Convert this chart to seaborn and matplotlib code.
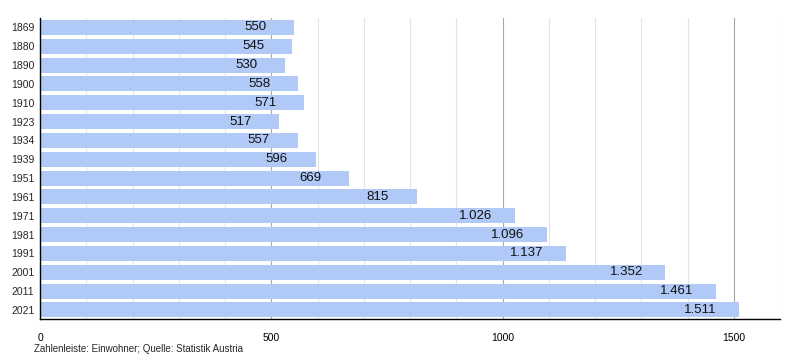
import matplotlib
matplotlib.use("Agg")
import matplotlib.pyplot as plt
from matplotlib.ticker import MultipleLocator
import seaborn as sns
import pandas as pd

# Einwohnerentwicklung
years = ["1869", "1880", "1890", "1900", "1910", "1923", "1934", "1939",
         "1951", "1961", "1971", "1981", "1991", "2001", "2011", "2021"]
population = [550, 545, 530, 558, 571, 517, 557, 596,
              669, 815, 1026, 1096, 1137, 1352, 1461, 1511]
value_labels = ["550", "545", "530", "558", "571", "517", "557", "596",
                "669", "815", "1.026", "1.096", "1.137", "1.352", "1.461", "1.511"]

df = pd.DataFrame({"Jahr": years, "Einwohner": population})

sns.set_style("white")
plt.rcParams['font.family'] = ['Liberation Sans', 'DejaVu Sans']

fig = plt.figure(figsize=(8, 3.6), dpi=100)
ax = fig.add_axes([0.05, 0.113, 0.925, 0.837])

sns.barplot(data=df, x="Einwohner", y="Jahr", orient="h", color="#b0c9f7",
            saturation=1, width=0.8, ax=ax, zorder=3, linewidth=0)

ax.set_xlim(0, 1600)
ax.set_ylim(15.5, -0.5)

# Gitter (hinter den Balken)
ax.xaxis.set_major_locator(MultipleLocator(500))
ax.xaxis.set_minor_locator(MultipleLocator(100))
ax.grid(axis="x", which="minor", color="#e3e3e3", linewidth=0.8, zorder=0)
ax.grid(axis="x", which="major", color="#a8a8a8", linewidth=0.8, zorder=0)
ax.set_axisbelow(True)
ax.tick_params(axis="x", which="major", direction="inout", length=6, width=0.8,
               labelsize=7.5, colors="black", pad=7)
ax.tick_params(axis="x", which="minor", direction="out", length=3, width=0.8)
ax.tick_params(axis="y", length=0, labelsize=7.5, pad=4)

for spine in ["top", "right"]:
    ax.spines[spine].set_visible(False)
for spine in ["left", "bottom"]:
    ax.spines[spine].set_color("black")
    ax.spines[spine].set_linewidth(1)
    ax.spines[spine].set_zorder(5)

# Werte in den Balken
for i, (v, lab) in enumerate(zip(population, value_labels)):
    ax.annotate(lab, xy=(v, i), xytext=(-39, 0), textcoords="offset pixels",
                ha="center", va="center", fontsize=9.5, color="#111111", zorder=4)

ax.set_xlabel("")
ax.set_ylabel("")

fig.text(0.043, 0.03, "Zahlenleiste: Einwohner; Quelle: Statistik Austria",
         fontsize=7, ha="left", va="center")

plt.savefig("out.png", dpi=100)
